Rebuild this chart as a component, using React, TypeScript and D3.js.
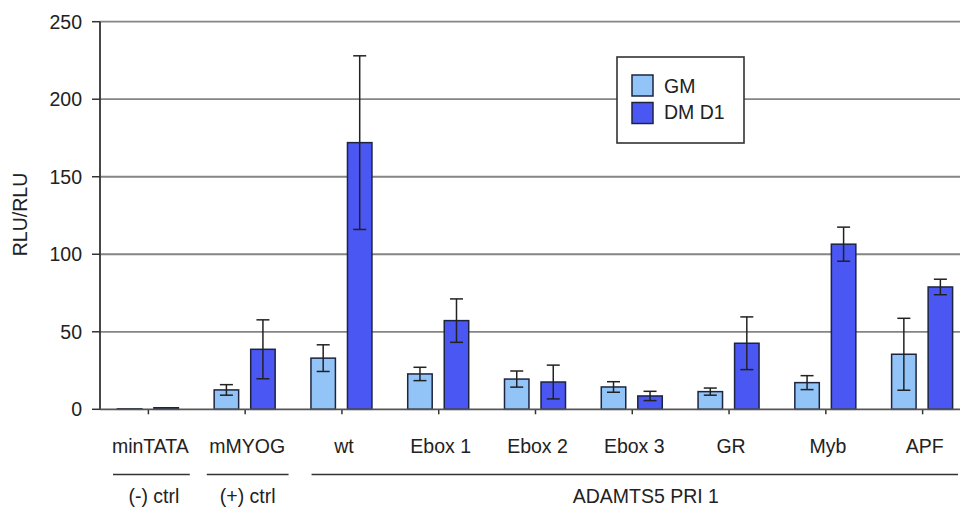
import React from 'react';
import * as d3 from 'd3';

const categories = ['minTATA', 'mMYOG', 'wt', 'Ebox 1', 'Ebox 2', 'Ebox 3', 'GR', 'Myb', 'APF'];
const seriesNames = ['GM', 'DM D1'];
const gmValues = [0.3, 12.5, 33, 22.8, 19.5, 14.4, 11.4, 17.2, 35.5];
const gmErrors = [0.2, 3.4, 8.6, 4.3, 5.2, 3.4, 2.3, 4.5, 23.2];
const dmValues = [1, 38.7, 172, 57.2, 17.6, 8.6, 42.6, 106.5, 78.9];
const dmErrors = [0.3, 19, 56, 14, 10.9, 3, 17, 11, 5];
const yTicks = [0, 50, 100, 150, 200, 250];
const groupLabels = ['(-) ctrl', '(+) ctrl', 'ADAMTS5 PRI 1'];
const groupRanges: [number, number][] = [[0, 0], [1, 1], [2, 8]];

const W = 960;
const H = 507;
const FONT = '"Liberation Sans", Arial, sans-serif';
const TXT = '#222';
const COLORS = ['#93c4f8', '#4b57f2'];

export default function App() {
  const x = d3.scaleBand<string>().domain(categories).range([100, 971]).padding(0);
  const y = d3.scaleLinear().domain([0, 250]).range([409.3, 21.7]);
  const sub = d3.scaleBand<string>().domain(seriesNames).range([-31, 30]).paddingInner(0.33);
  const bw = sub.bandwidth();
  const values = [gmValues, dmValues];
  const errors = [gmErrors, dmErrors];
  const center = (c: string) => (x(c) as number) + x.bandwidth() / 2;

  const groupLayout = [
    { insetL: 13, insetR: 7, dx: 2.5 },
    { insetL: 10, insetR: 5, dx: 0 },
    { insetL: 18, insetR: 13, dx: 11 },
  ];

  return (
    <svg width={W} height={H} style={{ position: 'absolute', left: 0, top: 0, background: '#fff' }}>
      <rect x={0} y={0} width={W} height={H} fill="#fff" />
      {/* gridlines */}
      {yTicks.filter((t) => t > 0).map((t) => (
        <line key={'g' + t} x1={100} x2={W} y1={y(t)} y2={y(t)} stroke="#858585" strokeWidth={1.8} />
      ))}
      {/* y tick labels and ticks */}
      {yTicks.map((t) => (
        <g key={'t' + t}>
          <line x1={92} x2={100} y1={y(t)} y2={y(t)} stroke="#333" strokeWidth={1.5} />
          <text x={82} y={y(t)} dy="0.36em" textAnchor="end" fontFamily={FONT} fontSize={19.5} fill={TXT}>
            {t}
          </text>
        </g>
      ))}
      {/* bars */}
      {categories.map((c, i) => (
        <g key={c}>
          {seriesNames.map((s, k) => {
            const v = values[k][i];
            const e = errors[k][i];
            const bx = center(c) + (sub(s) as number);
            const cx = bx + bw / 2;
            return (
              <g key={s}>
                <rect x={bx} y={y(v)} width={bw} height={y(0) - y(v)} fill={COLORS[k]} stroke="#1c2440" strokeWidth={1.5} />
                {e > 0.5 && (
                  <g stroke="#222" strokeWidth={1.5}>
                    <line x1={cx} x2={cx} y1={y(v + e)} y2={y(Math.max(0, v - e))} />
                    <line x1={cx - 6.5} x2={cx + 6.5} y1={y(v + e)} y2={y(v + e)} />
                    <line x1={cx - 6.5} x2={cx + 6.5} y1={y(Math.max(0, v - e))} y2={y(Math.max(0, v - e))} />
                  </g>
                )}
              </g>
            );
          })}
          <line x1={center(c)} x2={center(c)} y1={y(0)} y2={y(0) + 5} stroke="#333" strokeWidth={1.5} />
          <text x={center(c) + 2} y={453} textAnchor="middle" fontFamily={FONT} fontSize={19.5} fill={TXT}>
            {c}
          </text>
        </g>
      ))}
      {/* axes */}
      <line x1={100} x2={100} y1={y(250)} y2={y(0)} stroke="#333" strokeWidth={1.8} />
      <line x1={100} x2={W} y1={y(0)} y2={y(0)} stroke="#555" strokeWidth={1.8} />
      {/* group lines and labels */}
      {groupLabels.map((g, i) => {
        const [a, b] = groupRanges[i];
        const x0 = (x(categories[a]) as number) + groupLayout[i].insetL;
        const x1 = Math.min((x(categories[b]) as number) + x.bandwidth() - groupLayout[i].insetR, 958);
        return (
          <g key={g}>
            <line x1={x0} x2={x1} y1={474.5} y2={474.5} stroke="#333" strokeWidth={1.6} />
            <text x={(x0 + x1) / 2 + groupLayout[i].dx} y={503} textAnchor="middle" fontFamily={FONT} fontSize={19.5} fill={TXT}>
              {g}
            </text>
          </g>
        );
      })}
      {/* y axis title */}
      <text transform="translate(27,214.5) rotate(-90)" textAnchor="middle" fontFamily={FONT} fontSize={19.5} fill={TXT}>
        RLU/RLU
      </text>
      {/* legend */}
      <g>
        <rect x={617} y={57} width={127} height={86} fill="#fff" stroke="#333" strokeWidth={1.6} />
        {seriesNames.map((s, k) => (
          <g key={s}>
            <rect x={632} y={75 + k * 27.5} width={21} height={21} fill={COLORS[k]} stroke="#1c2440" strokeWidth={1.5} />
            <text x={664} y={93 + k * 25.5} fontFamily={FONT} fontSize={19.5} fill={TXT}>
              {s}
            </text>
          </g>
        ))}
      </g>
    </svg>
  );
}
